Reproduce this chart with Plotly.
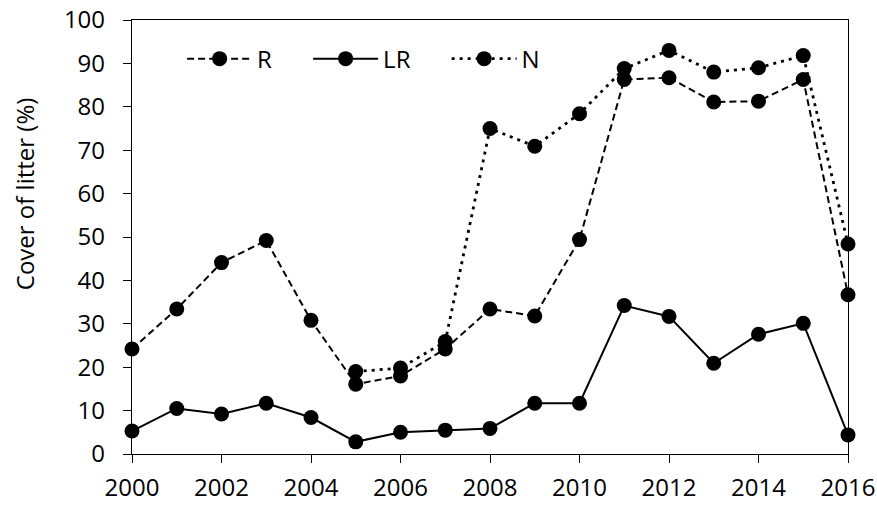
import plotly.graph_objects as go

years = list(range(2000, 2017))
r_vals = [24.2, 33.4, 44.1, 49.2, 30.8, 16.1, 18.0, 24.2, 33.4, 31.8, 49.4, 86.3, 86.7, 81.1, 81.3, 86.3, 36.7]
lr_vals = [5.3, 10.5, 9.2, 11.7, 8.4, 2.8, 5.0, 5.5, 5.9, 11.7, 11.7, 34.2, 31.7, 20.9, 27.6, 30.1, 4.4]
n_vals = [None, None, None, None, None, 19.0, 19.8, 25.9, 75.0, 70.9, 78.4, 88.8, 93.0, 88.0, 89.0, 91.8, 48.4]

font = "Open Sans, Noto Sans, sans-serif"
pad = "\u00a0" * 5

fig = go.Figure()
series = [
    ("R", r_vals, "7px,4px", 2),
    ("LR", lr_vals, "solid", 2),
    ("N", n_vals, "3px,5px", 2.8),
]
for name, vals, dash, lw in series:
    fig.add_trace(
        go.Scatter(
            x=years,
            y=vals,
            name=name + pad,
            mode="lines+markers",
            line=dict(color="black", width=lw, dash=dash),
            marker=dict(color="black", size=15),
        )
    )

fig.update_layout(
    width=877,
    height=505,
    margin=dict(l=132, r=29, t=20, b=51, autoexpand=False),
    plot_bgcolor="white",
    paper_bgcolor="white",
    font=dict(family=font, size=24, color="black"),
    showlegend=True,
    legend=dict(
        orientation="h",
        x=0.07,
        y=0.91,
        xanchor="left",
        yanchor="middle",
        bgcolor="rgba(0,0,0,0)",
        itemwidth=65,
        font=dict(size=24),
        traceorder="normal",
    ),
    annotations=[
        dict(
            text="Cover of litter (%)",
            xref="paper",
            yref="paper",
            x=-0.15,
            y=0.6,
            xanchor="center",
            yanchor="middle",
            textangle=-90,
            showarrow=False,
            font=dict(size=24),
        )
    ],
)
fig.update_xaxes(
    range=[2000, 2016],
    tickvals=list(range(2000, 2017, 2)),
    ticks="outside",
    ticklen=8,
    tickwidth=1.3,
    tickcolor="black",
    ticklabelstandoff=4,
    showline=True,
    linecolor="black",
    linewidth=1.3,
    mirror=True,
    showgrid=False,
    zeroline=False,
    automargin=False,
)
fig.update_yaxes(
    range=[0, 100],
    dtick=10,
    ticks="outside",
    ticklen=8,
    tickwidth=1.3,
    tickcolor="black",
    ticklabelstandoff=13,
    showline=True,
    linecolor="black",
    linewidth=1.3,
    mirror=True,
    showgrid=False,
    zeroline=False,
    automargin=False,
)
fig.update_traces(cliponaxis=False)

fig.write_html(
    "out.html",
    config={"displayModeBar": False},
    post_script="document.body.style.margin='0';document.body.style.overflow='hidden';",
)
